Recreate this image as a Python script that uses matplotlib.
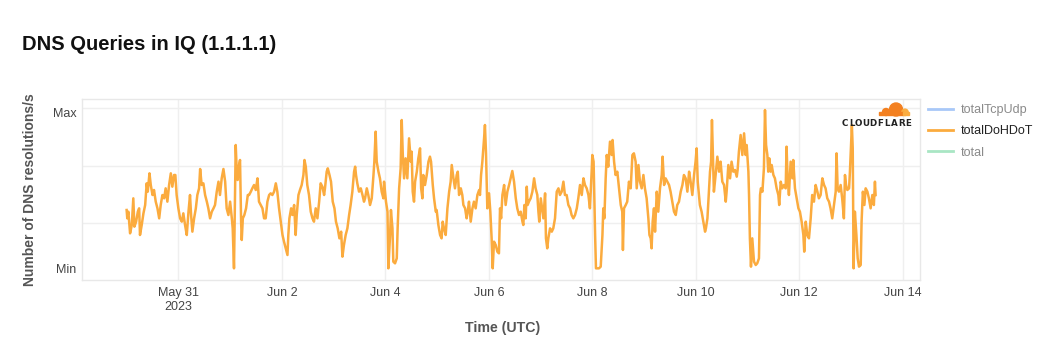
import matplotlib
matplotlib.use("Agg")
import matplotlib.pyplot as plt
from matplotlib.lines import Line2D
from matplotlib.patches import Circle, Rectangle
from datetime import datetime, timedelta

plt.rcParams['font.family'] = ['Liberation Sans', 'DejaVu Sans']

# hours since 2023-05-30 00:00 UTC, relative query rate (DoH/DoT)
start = datetime(2023, 5, 30)
hours = [
    0.0, 0.3, 0.8, 1.6, 2.4, 3.1, 3.6, 4.4, 5.2, 5.8, 6.2, 7.0, 7.8, 8.6, 9.3, 9.8,
    10.6, 11.2, 12.0, 12.7, 13.5, 14.3, 15.1, 15.8, 16.6, 17.4, 18.1, 18.9, 19.7,
    20.5, 21.2, 22.0, 22.6, 23.2, 24.0, 24.8, 25.6, 26.3, 27.1, 27.9, 28.7, 29.4,
    29.9, 30.5, 31.3, 32.1, 32.8, 33.6, 34.1, 34.8, 35.6, 36.4, 37.2, 37.9, 38.7,
    39.5, 40.3, 41.0, 41.8, 42.6, 43.3, 44.1, 44.9, 45.7, 46.4, 47.2, 48.0, 48.8,
    49.2, 49.8, 50.3, 50.6, 51.0, 51.5, 52.0, 52.6, 53.1, 53.4, 53.9,
    54.6, 55.4, 56.2, 56.8, 57.6, 58.3, 59.1, 59.9, 60.7, 61.4, 62.2, 63.0, 63.75,
    64.5, 65.3, 66.1, 66.8, 67.6, 68.4, 69.2, 69.9, 70.7, 71.5, 72.3, 73.0, 73.8,
    74.6, 75.0, 75.5, 76.3, 76.9, 77.7, 78.4, 78.9, 79.7, 80.4, 81.2, 82.0, 82.5,
    83.1, 83.8, 84.6, 85.4, 86.2, 86.9, 87.7, 88.5, 89.3, 90.0, 90.8, 91.6, 92.0,
    92.8, 93.3, 94.1, 94.8, 95.6, 96.4, 97.1, 97.9, 98.7, 99.5, 100.1, 100.8,
    101.6, 102.4, 103.2, 103.9, 104.7, 105.5, 106.0, 106.4, 107.0, 107.8, 108.6,
    109.4, 110.1,
    110.6, 111.4, 112.1, 112.9, 113.7, 114.5, 114.9, 115.5, 116.0, 116.8, 117.5,
    118.3, 119.1, 119.4, 120.3, 121.0, 121.4, 122.2, 122.6, 123.3, 123.7, 124.5,
    125.3, 125.7, 126.4, 127.1, 127.6, 128.1, 128.7, 129.4, 130.2, 131.0, 131.8,
    132.2, 132.7, 133.3, 133.8, 134.6, 135.3, 136.1, 136.6, 137.2, 137.6, 138.4,
    139.2, 140.0, 140.7, 141.2, 142.0, 142.6, 143.4, 143.8, 144.6, 145.4, 146.1,
    146.6, 147.2, 148.0, 148.8, 149.6, 150.3, 150.8, 151.6, 152.3, 153.1, 153.6,
    154.2, 155.0, 155.7, 156.2, 157.0, 157.7, 158.2, 158.8, 159.6, 160.4, 161.1,
    161.9, 162.7, 163.5, 163.9, 164.4, 165.0, 165.8, 166.2, 166.7, 167.3,
    168.1, 168.7, 169.3, 169.8, 170.4, 171.2, 171.96, 172.7, 173.2, 173.7, 174.3,
    175.1, 175.8, 176.6, 177.4, 178.1, 178.9, 179.7, 180.5, 181.2, 182.0, 182.8,
    183.6, 184.0, 184.5, 185.1, 185.6, 186.0, 186.6, 187.4, 188.2, 189.0, 189.7,
    190.5, 191.0, 191.4, 192.1, 192.8, 193.3, 194.1, 194.5, 195.1, 195.6, 196.4,
    197.2, 197.9, 198.7, 199.5, 200.3, 201.0, 201.8, 202.6, 203.3, 204.1, 204.9,
    205.7, 206.4, 207.2, 208.0, 208.8, 209.5, 210.3, 211.1, 211.9, 212.6, 213.4,
    214.2, 214.9, 215.7, 216.0, 216.6, 217.3, 217.7, 218.3, 219.1, 219.9, 220.7,
    221.1, 221.6, 222.2, 222.7, 223.4,
    224.2, 225.0, 225.4, 226.1, 226.8, 227.6, 228.4, 229.2, 229.9, 230.2, 230.7,
    231.5, 232.2, 233.0, 233.8, 234.6, 235.3, 236.1, 236.6, 237.4, 238.1, 238.9,
    239.7, 240.4, 241.2, 242.0, 242.5, 243.1, 243.5, 244.0, 244.6, 245.1, 245.9,
    246.6, 247.4, 248.2, 248.6, 249.3, 250.0, 250.8, 251.6, 252.3, 253.1, 253.9,
    254.7, 255.4, 256.2, 257.0, 257.8, 258.5, 259.3, 260.1, 260.9, 261.6, 262.4,
    263.2, 263.9, 264.4, 264.9, 265.5, 265.9, 266.7, 267.5, 268.3, 268.7, 269.4,
    270.1, 270.6, 271.1, 271.5, 272.0, 272.4, 273.2, 274.0, 274.8, 275.5, 276.3,
    277.1, 277.9, 278.3, 279.1, 279.9, 280.6, 281.4,
    282.2, 283.0, 283.4, 284.0, 284.8, 285.6, 286.4, 287.1, 287.6, 288.4, 288.7,
    289.1, 289.6, 290.2, 291.0, 291.8, 292.5, 293.3, 293.8, 294.2, 294.9, 295.6,
    296.1, 296.6, 297.2, 297.6, 298.1, 298.7, 299.2, 300.0, 300.7, 301.5, 302.3,
    302.7, 303.4, 304.1, 304.9, 305.7, 306.1, 306.6, 307.2, 308.0, 308.8, 309.2,
    310.0, 310.8, 311.6, 312.3, 313.1, 313.9, 314.3, 315.0, 315.7, 316.5, 317.3,
    318.0, 318.8, 319.6, 320.4, 321.1, 321.9, 322.7, 323.5, 324.2, 325.0, 325.8,
    326.5, 327.3, 328.1, 328.9, 329.3, 329.8, 330.4, 331.2, 331.9, 332.7, 333.2,
    333.7, 334.3, 335.1, 335.5, 336.0, 336.4, 336.8, 337.2, 337.8, 338.5, 339.1,
    339.7, 340.5, 340.9, 341.5, 342.2, 342.8, 343.6, 344.3, 345.1, 345.9, 346.6,
    347.1, 347.4,
]
doh_dot = [
    210, 185, 205, 140, 165, 245, 160, 175, 205, 215, 135, 165, 200, 225, 290, 265,
    320, 285, 255, 270, 235, 215, 185, 225, 255, 245, 275, 235, 285,
    320, 280, 315, 315, 255, 215, 185, 175, 200, 165, 135, 205, 255,
    195, 145, 185, 215, 255, 275, 333, 285, 290, 255, 235, 215, 185,
    205, 215, 225, 265, 295, 255, 305, 333, 295, 215, 195, 235, 185,
    155, 35, 255, 405, 340, 300, 340, 360, 175, 120, 185,
    195, 215, 255, 255, 265, 275, 285, 270, 305, 235, 225, 215, 185,
    185, 235, 255, 260, 255, 265, 290, 265, 215, 175, 135, 115, 95,
    75, 135, 185, 215, 195, 225, 135, 195, 255, 270, 285, 315, 360,
    340, 285, 255, 205, 185, 175, 215, 185, 235, 290, 280, 255, 275,
    325, 335, 315, 295, 235, 215, 175, 155, 125, 145, 70, 105,
    135, 155, 195, 225, 265, 325, 340, 315, 290, 265, 275,
    255, 235,
    245, 275, 255, 225, 245, 315, 355, 445, 355, 325, 305,
    265, 245, 295, 235, 205, 35, 135, 210, 155, 55, 50,
    65, 155, 275, 335, 480, 375, 305, 365, 305, 425, 355,
    385, 265, 235, 295, 325, 365, 395, 275, 245, 315, 285,
    315, 355, 370, 355, 285, 245, 205, 210, 165, 135, 125,
    175, 155, 135, 215, 265, 295, 345, 305, 275, 315, 325,
    255, 275, 255, 225, 215, 185, 205, 235, 175, 215, 235,
    215, 255, 270, 255, 315, 355, 425, 465, 380, 215,
    260, 205, 125, 35, 115, 105, 85, 80, 215, 185, 255,
    285, 225, 265, 285, 305, 327, 295, 245, 215, 195, 205,
    175, 165, 225, 185, 280, 225, 235, 245, 265, 305, 275,
    255, 205, 175, 245, 210, 185, 260, 125, 95, 125, 155,
    145, 155, 185, 265, 275, 255, 265, 295, 255, 255, 225,
    215, 195, 185, 195, 215, 245, 285, 255, 305, 285, 275,
    255, 215, 325, 375, 355, 135, 35, 35, 35, 40, 135,
    215, 185, 305, 375, 340,
    415, 375, 420, 355, 315, 325, 275, 225, 205, 90, 215,
    225, 235, 295, 275, 375, 380, 355, 275, 345, 295, 275,
    315, 275, 245, 185, 135, 125, 95, 175, 215, 145, 265,
    205, 275, 315, 370, 285, 305, 295, 285, 265, 235, 205,
    195, 225, 235, 265, 285, 315, 305, 265, 325, 295, 255,
    315, 355, 395, 295, 255, 225, 205, 175, 145, 155, 185,
    265, 325, 355, 480, 355, 265, 315, 370, 325, 355, 295,
    285, 235, 265, 345, 305, 355, 325,
    330, 310, 330, 385, 435, 375, 440, 375, 405, 325, 255,
    125, 40, 125, 55, 45, 50, 65, 255, 275, 265, 335,
    510, 405, 375, 325, 365, 325, 345, 315, 305, 275, 255,
    225, 295, 275, 285, 275, 400, 305, 255, 355, 305, 360,
    275, 245, 215, 205, 175, 135, 85, 175, 135, 125, 185,
    255, 235, 285, 265, 245, 255, 305, 285, 275, 245, 235,
    215, 185, 225, 265, 380, 275, 265, 285, 245, 185, 315,
    285, 270, 275, 325, 405, 465, 395, 35, 205, 135, 65,
    40, 45, 175, 265, 225, 275, 265, 245, 215, 255, 225,
    295, 255,
]

tick_dates = [datetime(2023, 5, 31) + timedelta(days=2 * i) for i in range(8)]
tick_labels = ['May 31\n2023', 'Jun 2', 'Jun 4', 'Jun 6', 'Jun 8', 'Jun 10', 'Jun 12', 'Jun 14']
legend_names = ['totalTcpUdp', 'totalDoHDoT', 'total']
legend_colors = ['#a8c8f8', '#fbab3e', '#a9e6c4']
legend_text_colors = ['#8a8a8a', '#222222', '#8a8a8a']

times = [start + timedelta(hours=h) for h in hours]

fig = plt.figure(figsize=(10.5, 3.6), dpi=100)
ax = fig.add_axes([82 / 1050, 1 - 280 / 360, (920 - 82) / 1050, (280 - 99) / 360])

ax.plot(times, doh_dot, color='#fbab3e', lw=1.8, solid_joinstyle='round')

ax.set_xlim(start - timedelta(hours=20.7), start + timedelta(hours=368))
ax.set_ylim(0, 543)

for gy in [172, 343, 515]:
    ax.axhline(gy, color='#efefef', lw=1, zorder=0)
for td in tick_dates:
    ax.axvline(td, color='#efefef', lw=1, zorder=0)

ax.set_xticks(tick_dates)
ax.set_xticklabels(tick_labels)
ax.set_yticks([min(doh_dot), max(doh_dot) - 8])
ax.set_yticklabels(['Min', 'Max'])
ax.tick_params(length=0, labelsize=9, colors='#444444')
ax.tick_params(axis='x', pad=5)
ax.tick_params(axis='y', pad=4)
for s in ax.spines.values():
    s.set_color('#e8e8e8')
    s.set_linewidth(1)

fig.text(22 / 1050, 1 - 45 / 360, 'DNS Queries in IQ (1.1.1.1)', fontsize=14.5,
         fontweight='bold', color='#111111', va='center', ha='left')
fig.text(30 / 1050, 1 - 190 / 360, 'Number of DNS resolutions/s', rotation=90,
         fontsize=10, fontweight='bold', color='#555555', va='center', ha='center')
fig.text(503 / 1050, 1 - 328 / 360, 'Time (UTC)', fontsize=10.2,
         fontweight='bold', color='#555555', va='center', ha='center')

handles = [Line2D([0], [0], color=c, lw=2) for c in legend_colors]
leg = fig.legend(handles, legend_names, loc='upper left',
                 bbox_to_anchor=(928 / 1050, 1 - 104 / 360), frameon=False,
                 fontsize=9, handlelength=2.0, handletextpad=0.6, labelspacing=0.75,
                 borderaxespad=0, borderpad=0)
for t, c in zip(leg.get_texts(), legend_text_colors):
    t.set_color(c)

# Cloudflare logo
logo = fig.add_axes([838 / 1050, 1 - 130 / 360, 75 / 1050, 30 / 360])
logo.set_xlim(838, 913)
logo.set_ylim(130, 100)
logo.axis('off')
logo.add_patch(Circle((896, 109.5), 6.5, color='#f38020'))
logo.add_patch(Circle((886, 112), 3.5, color='#f38020'))
logo.add_patch(Circle((905, 112.3), 3.2, color='#fbad41'))
logo.add_patch(Rectangle((879, 112), 24, 3.3, color='#f38020'))
logo.add_patch(Rectangle((903, 112.3), 5.5, 3.0, color='#fbad41'))
for i, ch in enumerate('CLOUDFLARE'):
    logo.text(844.5 + i * 7.1, 123.5, ch, fontsize=6.3, fontweight='bold',
              family='DejaVu Sans', color='#222222', ha='center', va='center')

fig.savefig('out.png', dpi=100)
